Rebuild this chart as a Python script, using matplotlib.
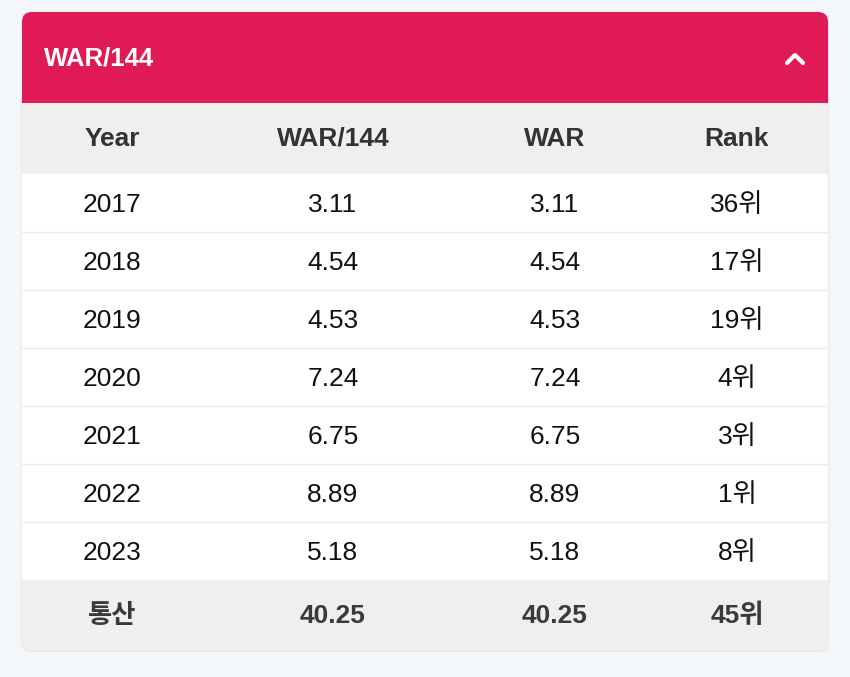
import matplotlib
matplotlib.use("Agg")
import matplotlib.pyplot as plt
from matplotlib.patches import FancyBboxPatch, Rectangle

plt.rcParams['font.family'] = ['Liberation Sans', 'Noto Sans CJK KR', 'DejaVu Sans']

title = "WAR/144"
columns = ["Year", "WAR/144", "WAR", "Rank"]
years = ["2017", "2018", "2019", "2020", "2021", "2022", "2023"]
war144 = [3.11, 4.54, 4.53, 7.24, 6.75, 8.89, 5.18]
war = [3.11, 4.54, 4.53, 7.24, 6.75, 8.89, 5.18]
rank = ["36위", "17위", "19위", "4위", "3위", "1위", "8위"]
total = ["통산", "40.25", "40.25", "45위"]

W, H = 850, 677
fig = plt.figure(figsize=(W / 100, H / 100), dpi=100)
fig.patch.set_facecolor("#F4F7F9")
ax = fig.add_axes([0, 0, 1, 1])
ax.set_xlim(0, W)
ax.set_ylim(H, 0)
ax.axis("off")

x0, x1 = 22, 828
top, head_bot, colhead_bot = 12, 103, 174
row_h = 58
rows_bot = colhead_bot + row_h * len(years)
bottom = 650
red = "#E01A57"

# shadow + card
ax.add_patch(FancyBboxPatch((x0 - 1, top - 0.5), x1 - x0 + 2, bottom - top + 2.5,
                            boxstyle="round,pad=0,rounding_size=10",
                            facecolor="#E6E9EC", edgecolor="none", zorder=0))
ax.add_patch(FancyBboxPatch((x0, top), x1 - x0, bottom - top,
                            boxstyle="round,pad=0,rounding_size=10",
                            facecolor="white", edgecolor="none", zorder=1))
# red header
ax.add_patch(FancyBboxPatch((x0, top), x1 - x0, head_bot - top,
                            boxstyle="round,pad=0,rounding_size=10",
                            facecolor=red, edgecolor="none", zorder=2))
ax.add_patch(Rectangle((x0, top + 30), x1 - x0, head_bot - top - 30,
                       facecolor=red, edgecolor="none", zorder=2))
# column header row
ax.add_patch(Rectangle((x0, head_bot), x1 - x0, colhead_bot - head_bot,
                       facecolor="#EFEFEF", edgecolor="none", zorder=2))
# total row
ax.add_patch(FancyBboxPatch((x0, rows_bot), x1 - x0, bottom - rows_bot,
                            boxstyle="round,pad=0,rounding_size=6",
                            facecolor="#EFEFEF", edgecolor="none", zorder=2))
ax.add_patch(Rectangle((x0, rows_bot), x1 - x0, 30,
                       facecolor="#EFEFEF", edgecolor="none", zorder=2))

# separators
for i in range(1, len(years)):
    y = colhead_bot + i * row_h
    ax.plot([x0, x1], [y, y], color="#EDEDED", lw=1, zorder=3)

# title + chevron
ax.text(44, 58, title, color="white", fontsize=18.5, fontweight="bold",
        ha="left", va="center", zorder=4)
ax.plot([787, 795, 803], [63, 55, 63], color="white", lw=3,
        solid_capstyle="round", solid_joinstyle="round", zorder=4)

col_x = [112, 333, 555, 737]
for cx, c in zip(col_x, columns):
    ax.text(cx, 139, c, color="#333333", fontsize=19, fontweight="bold",
            ha="center", va="center", zorder=4)

for i, (yr, a, b, r) in enumerate(zip(years, war144, war, rank)):
    yc = colhead_bot + row_h * i + row_h / 2 + 1.5
    for cx, s in zip(col_x, [yr, f"{a:.2f}", f"{b:.2f}", r]):
        ax.text(cx, yc, s, color="#111111", fontsize=19,
                ha="center", va="center", zorder=4)

for cx, s in zip(col_x, total):
    ax.text(cx, (rows_bot + bottom) / 2 + 1, s, color="#3A3A3A", fontsize=19,
            fontweight="bold", ha="center", va="center", zorder=4)

fig.savefig("out.png", dpi=100, facecolor=fig.get_facecolor())
